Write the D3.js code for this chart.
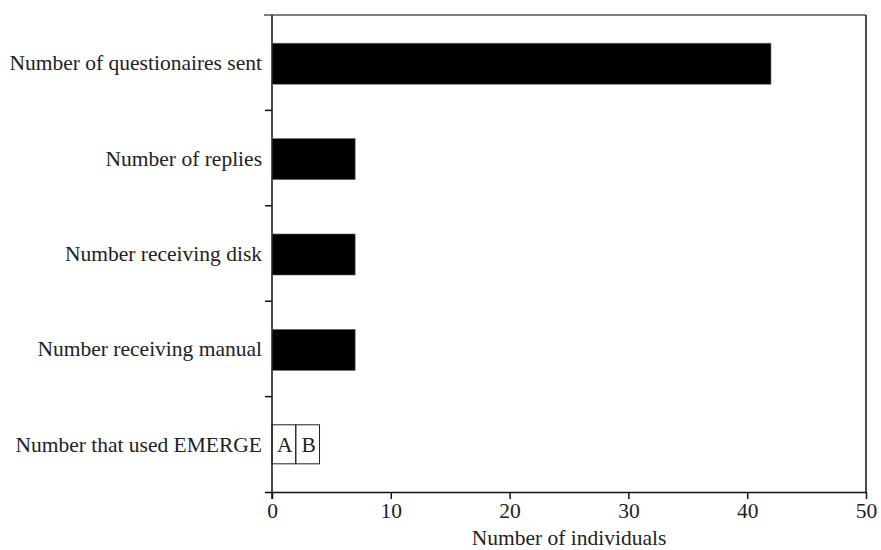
<!DOCTYPE html>
<html>
<head>
<meta charset="utf-8">
<script src="https://cdn.jsdelivr.net/npm/d3@7"></script>
<style>
  body { margin: 0; background: #fff; }
  text { font-family: "Liberation Serif", "Times New Roman", serif; fill: #222; }
</style>
</head>
<body>
<script>
// chart values
const categories = [
    "Number of questionaires sent",
    "Number of replies",
    "Number receiving disk",
    "Number receiving manual",
    "Number that used EMERGE"
];
const counts = [42, 7, 7, 7, null];
// last row is split into two outlined parts
const emergeParts = [
    { label: "A", value: 2 },
    { label: "B", value: 2 }
];
const xTicks = [0, 10, 20, 30, 40, 50];
const xTitle = "Number of individuals";

const w = 881, h = 550;
const margin = { top: 15, right: 15, bottom: 58, left: 272 };
const iw = w - margin.left - margin.right,
    ih = h - margin.top - margin.bottom;
const fs = '21.5px';

const svg = d3.select('body').append('svg')
    .attr('width', w)
    .attr('height', h);

const g = svg.append('g')
    .attr('transform', `translate(${margin.left},${margin.top})`);

const x = d3.scaleLinear()
    .domain([0, 50])
    .range([0, iw]);

const y = d3.scaleBand()
    .domain(categories)
    .range([0, ih])
    .paddingInner(0.57)
    .paddingOuter(0.285);

const half = y.step() * y.paddingInner() / 2;

// frame: top and right lines
g.append('line')
    .attr('x1', -8).attr('x2', iw)
    .attr('y1', 0).attr('y2', 0)
    .attr('stroke', '#555').attr('stroke-width', 1.5);
g.append('line')
    .attr('x1', iw).attr('x2', iw)
    .attr('y1', 0).attr('y2', ih)
    .attr('stroke', '#111').attr('stroke-width', 1.5);

// x axis
const xAxis = g.append('g')
    .attr('transform', `translate(0,${ih})`)
    .call(d3.axisBottom(x).tickValues(xTicks).tickSize(7).tickSizeOuter(0));
xAxis.select('.domain').attr('d', `M-7,0.5H${iw}`).attr('stroke', '#111').attr('stroke-width', 1.5);
xAxis.selectAll('.tick line').attr('stroke', '#111').attr('stroke-width', 1.5);
xAxis.selectAll('.tick text')
    .attr('dy', null).attr('y', 26)
    .style('font-size', fs)
    .style('font-family', '"Liberation Serif", serif')
    .attr('fill', '#222');

// y axis line with ticks at band boundaries
g.append('line')
    .attr('x1', 0).attr('x2', 0)
    .attr('y1', 0).attr('y2', ih + 7)
    .attr('stroke', '#111').attr('stroke-width', 1.5);
g.selectAll('.ybound')
    .data(categories.slice(1))
    .join('line')
    .attr('class', 'ybound')
    .attr('x1', -7).attr('x2', 0)
    .attr('y1', d => y(d) - half)
    .attr('y2', d => y(d) - half)
    .attr('stroke', '#111').attr('stroke-width', 1.5);

// category labels
g.selectAll('.ylab')
    .data(categories)
    .join('text')
    .attr('class', 'ylab')
    .attr('x', -10)
    .attr('y', d => y(d) + y.bandwidth() / 2)
    .attr('dy', '0.35em')
    .attr('text-anchor', 'end')
    .style('font-size', fs)
    .text(d => d);

// solid bars
g.selectAll('.bar')
    .data(categories.map((c, i) => ({ c, v: counts[i] })).filter(d => d.v != null))
    .join('rect')
    .attr('class', 'bar')
    .attr('x', 0)
    .attr('y', d => y(d.c) + 1)
    .attr('width', d => x(d.v))
    .attr('height', y.bandwidth())
    .attr('fill', '#000')
    .attr('stroke', '#666')
    .attr('stroke-width', 0.6);

// outlined A/B bar
let acc = 0;
const parts = emergeParts.map(p => {
    const s = acc;
    acc += p.value;
    return { ...p, start: s, end: acc };
});
const row = categories[4];
g.selectAll('.part')
    .data(parts)
    .join('rect')
    .attr('class', 'part')
    .attr('x', d => x(d.start))
    .attr('y', y(row) + 1)
    .attr('width', d => x(d.end) - x(d.start))
    .attr('height', y.bandwidth() - 2)
    .attr('fill', 'none')
    .attr('stroke', '#222')
    .attr('stroke-width', 1);
g.selectAll('.partlab')
    .data(parts)
    .join('text')
    .attr('class', 'partlab')
    .attr('x', d => (x(d.start) + x(d.end)) / 2 + 1)
    .attr('y', y(row) + y.bandwidth() / 2)
    .attr('dy', '0.35em')
    .attr('text-anchor', 'middle')
    .style('font-size', fs)
    .text(d => d.label);

// x title
g.append('text')
    .attr('x', iw / 2)
    .attr('y', ih + 53)
    .attr('text-anchor', 'middle')
    .style('font-size', fs)
    .text(xTitle);
</script>
</body>
</html>
